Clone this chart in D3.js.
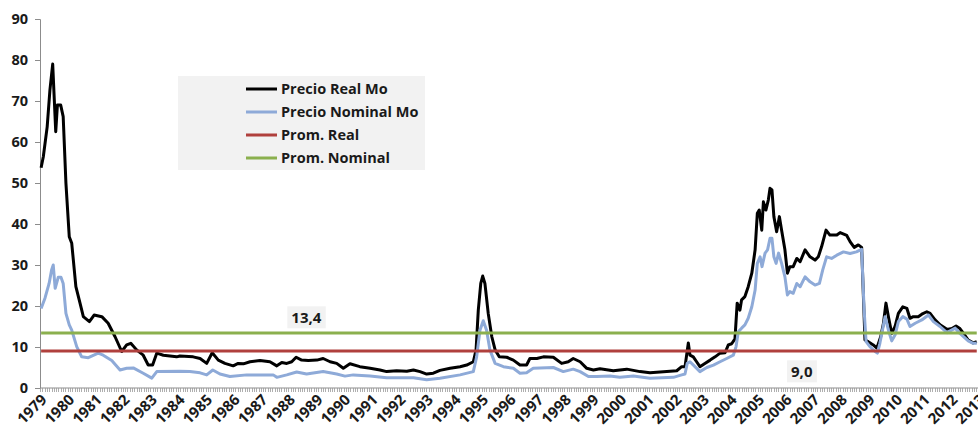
<!DOCTYPE html>
<html>
<head>
<meta charset="utf-8">
<script src="https://cdn.jsdelivr.net/npm/d3@7"></script>
<style>
  html, body { margin: 0; padding: 0; background: #fff; }
  svg { display: block; }
  text { font-family: "Open Sans", "Liberation Sans", sans-serif; font-weight: bold; fill: #1a1a1a; }
</style>
</head>
<body>
<svg id="chart" width="978" height="427"></svg>
<script>
// Monthly price series (decimal year, value)
const realDates = [1979.04,1979.12,1979.26,1979.36,1979.46,1979.57,1979.63,1979.75,1979.84,1979.94,
  1980.06,1980.15,1980.30,1980.45,1980.57,1980.79,1980.96,1981.24,1981.47,1981.72,1981.96,
  1982.14,1982.29,1982.50,1982.74,1982.92,1983.08,1983.23,1983.47,1983.95,1984.07,1984.55,1984.80,
  1985.04,1985.24,1985.46,1985.70,1986.00,1986.18,1986.37,1986.61,1986.97,1987.33,1987.58,1987.76,1987.94,
  1988.12,1988.28,1988.48,1988.72,1989.03,1989.26,1989.51,1989.75,1989.99,1990.23,1990.59,1990.96,
  1991.32,1991.56,1991.92,1992.29,1992.53,1992.77,1993.01,1993.25,1993.49,1993.86,1994.22,1994.46,1994.70,
  1994.80,1994.88,1994.97,1995.04,1995.12,1995.24,1995.37,1995.49,1995.64,1995.91,1996.15,1996.39,1996.63,
  1996.75,1997.00,1997.24,1997.60,1997.90,1998.14,1998.32,1998.57,1998.81,1999.05,1999.29,1999.77,
  2000.26,2000.74,2001.10,2001.71,2002.07,2002.25,2002.37,2002.49,2002.55,2002.67,2002.79,2002.91,
  2003.09,2003.28,2003.46,2003.64,2003.82,2003.94,2004.06,2004.18,2004.26,2004.36,2004.42,2004.54,2004.66,
  2004.79,2004.91,2004.99,2005.06,2005.15,2005.21,2005.30,2005.39,2005.45,2005.52,2005.59,2005.69,2005.79,
  2005.87,2005.99,2006.08,2006.17,2006.29,2006.42,2006.54,2006.72,2006.90,2007.08,2007.20,2007.32,2007.48,
  2007.62,2007.87,2007.99,2008.23,2008.35,2008.50,2008.65,2008.77,2008.89,2009.01,2009.19,2009.32,2009.46,
  2009.56,2009.65,2009.74,2009.86,2009.98,2010.10,2010.26,2010.41,2010.52,2010.64,2010.82,2010.95,2011.13,
  2011.25,2011.43,2011.61,2011.86,2012.04,2012.19,2012.33,2012.46,2012.63,2012.81,2012.94];
const realValues = [53.7,56.4,63.7,72.7,79.0,62.5,69.0,69.0,66.2,49.9,
  36.9,35.3,24.7,20.7,17.4,16.2,17.8,17.4,15.8,12.5,8.9,
  10.5,10.9,9.3,8.0,5.6,5.6,8.5,8.0,7.6,7.8,7.6,7.2,
  6.0,8.6,6.8,6.0,5.4,6.0,5.9,6.4,6.7,6.4,5.4,6.2,6.0,
  6.4,7.5,6.8,6.7,6.8,7.2,6.4,6.0,4.8,5.9,5.2,4.8,
  4.4,4.0,4.2,4.1,4.4,4.0,3.4,3.6,4.3,4.8,5.2,5.6,6.4,
  9.3,19.0,25.5,27.3,25.5,18.2,12.5,9.3,7.6,7.5,6.8,5.6,5.6,
  7.2,7.2,7.6,7.5,6.0,6.4,7.2,6.4,4.8,4.4,4.7,4.2,
  4.6,4.0,3.7,4.0,4.2,5.2,5.2,11.0,8.0,7.6,6.4,5.2,
  6.0,6.8,7.6,8.5,8.6,10.5,10.8,12.0,20.7,19.0,21.5,22.3,24.7,
  28.0,33.7,42.6,43.4,38.5,45.4,43.4,45.9,48.7,48.3,41.8,38.1,41.8,
  38.5,33.7,28.0,29.6,29.6,31.6,30.8,33.7,32.0,31.2,32.0,34.5,38.5,
  37.3,37.3,37.9,37.2,35.7,34.3,34.9,34.3,11.7,11.3,10.5,9.7,12.5,
  15.8,20.7,17.4,13.3,15.0,18.2,19.8,19.4,17.0,17.4,17.4,18.0,18.6,
  18.2,16.6,15.4,14.3,14.5,15.1,14.5,13.3,11.7,11.0,11.3];

const nominalDates = [1979.04,1979.18,1979.33,1979.42,1979.48,1979.55,1979.66,1979.76,1979.84,1979.94,
  1980.06,1980.15,1980.33,1980.51,1980.75,1981.11,1981.29,1981.60,1981.90,
  1982.14,1982.38,1982.74,1983.05,1983.23,1984.07,1984.43,1984.80,
  1985.04,1985.26,1985.52,1985.88,1986.49,1987.45,1987.58,1987.94,
  1988.30,1988.66,1989.26,1989.75,1990.05,1990.35,1990.96,
  1991.56,1992.53,1993.01,1993.49,1994.22,1994.70,
  1994.82,1994.94,1995.06,1995.18,1995.30,1995.49,1995.79,1996.15,1996.39,1996.63,
  1996.87,1997.60,1997.96,1998.32,1998.57,1998.87,1999.17,1999.65,
  2000.01,2000.50,2001.10,2001.95,2002.25,2002.37,2002.45,2002.55,2002.73,2002.91,
  2003.16,2003.40,2003.64,2003.88,2004.12,2004.22,2004.30,2004.42,2004.54,2004.66,
  2004.79,2004.91,2004.99,2005.09,2005.16,2005.27,2005.36,2005.45,2005.52,2005.59,2005.67,2005.76,
  2005.87,2005.99,2006.08,2006.17,2006.29,2006.42,2006.54,2006.72,2006.90,2007.08,2007.24,2007.36,2007.50,
  2007.68,2007.87,2008.11,2008.35,2008.58,2008.77,2008.86,2008.93,2009.07,2009.26,2009.34,2009.43,
  2009.55,2009.62,2009.74,2009.86,2009.98,2010.10,2010.26,2010.41,2010.52,2010.71,2010.95,2011.19,
  2011.37,2011.61,2011.86,2012.16,2012.33,2012.63,2012.81,2012.94];
const nominalValues = [19.4,21.9,25.5,28.8,30.0,24.3,27.0,27.0,25.5,18.2,
  15.4,14.1,10.1,7.6,7.4,8.5,8.0,6.7,4.4,
  4.8,4.9,3.6,2.4,4.0,4.1,4.0,3.7,
  3.2,4.4,3.4,2.8,3.2,3.2,2.6,3.2,
  3.9,3.4,4.0,3.4,2.9,3.2,2.9,
  2.5,2.5,2.0,2.4,3.2,4.0,
  7.6,14.1,16.4,14.1,9.3,6.0,5.2,4.8,3.6,3.7,
  4.8,5.0,4.0,4.6,4.0,2.8,2.8,2.9,
  2.6,2.9,2.4,2.6,3.2,3.4,6.0,6.4,5.2,4.0,
  5.0,5.6,6.4,7.2,8.0,10.1,13.7,14.6,15.4,17.0,
  19.8,23.9,30.4,32.0,29.6,32.9,33.7,36.5,36.5,32.0,30.4,32.9,
  30.4,27.1,22.7,23.5,23.1,25.5,24.7,27.1,25.9,25.1,25.5,28.8,32.0,
  31.6,32.4,33.2,32.8,33.2,33.8,19.0,11.3,10.1,8.9,8.5,10.9,
  15.0,17.4,14.1,11.5,12.9,16.2,17.4,16.8,15.0,15.8,16.6,17.8,
  16.2,15.0,13.5,14.6,13.3,11.5,10.9,10.9];

// Period averages
const promReal = 9.0;
const promNominal = 13.4;

const years = d3.range(1979, 2014);
const yTicks = [0, 10, 20, 30, 40, 50, 60, 70, 80, 90];
const seriesNames = ["Precio Real Mo", "Precio Nominal Mo", "Prom. Real", "Prom. Nominal"];
const seriesColors = ["#000000", "#8eaad8", "#b0403d", "#8bb04e"];

const svg = d3.select("#chart");
const x = d3.scaleLinear().domain([1979, 2013]).range([40, 978.4]);
const y = d3.scaleLinear().domain([0, 90]).range([388, 19]);
const fmtComma = v => d3.format(".1f")(v).replace(".", ",");

// y axis
const yAxis = d3.axisLeft(y).tickValues(yTicks).tickSize(5).tickPadding(7).tickFormat(d3.format("d"));
const gy = svg.append("g").attr("transform", "translate(40,0)").call(yAxis);
gy.select(".domain").attr("stroke", "#8c8c8c");
gy.selectAll(".tick line").attr("stroke", "#8c8c8c");
gy.selectAll(".tick text").style("font-size", "14.5px").attr("fill", "#1a1a1a");

// x axis: month ticks along the baseline
const months = d3.range(0, 34 * 12 + 1).map(i => 1979 + i / 12);
svg.append("line")
  .attr("x1", x(1979)).attr("x2", 978).attr("y1", y(0)).attr("y2", y(0))
  .attr("stroke", "#8c8c8c").attr("stroke-width", 1);
svg.append("g").selectAll("line").data(months).join("line")
  .attr("x1", d => Math.round(x(d)) + 0.5).attr("x2", d => Math.round(x(d)) + 0.5)
  .attr("y1", y(0)).attr("y2", y(0) + 4)
  .attr("stroke", "#9a9a9a").attr("stroke-width", 0.8);

// year labels, slanted at 45 degrees
svg.append("g").selectAll("text").data(years).join("text")
  .attr("transform", d => `translate(${x(d) + 4},${y(0) + 9}) rotate(-45)`)
  .attr("text-anchor", "end")
  .attr("dy", "0.35em")
  .style("font-size", "15px")
  .text(d => d);

// series lines
const line = d3.line().x(d => x(d[0])).y(d => y(d[1])).curve(d3.curveLinear);
const realData = d3.zip(realDates, realValues);
const nominalData = d3.zip(nominalDates, nominalValues);
const t0 = realDates[0], t1 = realDates[realDates.length - 1];

svg.append("path").datum(realData)
  .attr("d", line).attr("fill", "none").attr("stroke", seriesColors[0])
  .attr("stroke-width", 3).attr("stroke-linejoin", "round");
svg.append("path").datum(nominalData)
  .attr("d", line).attr("fill", "none").attr("stroke", seriesColors[1])
  .attr("stroke-width", 3).attr("stroke-linejoin", "round");
svg.append("path").datum([[t0, promReal], [t1, promReal]])
  .attr("d", line).attr("fill", "none").attr("stroke", seriesColors[2]).attr("stroke-width", 3);
svg.append("path").datum([[t0, promNominal], [t1, promNominal]])
  .attr("d", line).attr("fill", "none").attr("stroke", seriesColors[3]).attr("stroke-width", 3);

// value labels for the averages
function valueLabel(cx, cy, txt) {
  const g = svg.append("g");
  const t = g.append("text").attr("x", cx).attr("y", cy).attr("text-anchor", "middle")
    .attr("dy", "0.35em").style("font-size", "15px").text(txt);
  const b = t.node().getBBox();
  g.insert("rect", "text").attr("x", b.x - 4).attr("y", b.y - 1)
    .attr("width", b.width + 8).attr("height", b.height + 2).attr("fill", "#f2f2f2");
}
valueLabel(x(1988.65), y(promNominal) - 15, fmtComma(promNominal));
valueLabel(x(2006.6), y(promReal) + 21, fmtComma(promReal));

// legend
const legend = svg.append("g");
legend.append("rect").attr("x", 178).attr("y", 76).attr("width", 247).attr("height", 94).attr("fill", "#f2f2f2");
seriesNames.forEach((name, i) => {
  const ly = 89 + i * 23;
  legend.append("line").attr("x1", 246).attr("x2", 277).attr("y1", ly).attr("y2", ly)
    .attr("stroke", seriesColors[i]).attr("stroke-width", 3);
  legend.append("text").attr("x", 281).attr("y", ly).attr("dy", "0.35em")
    .style("font-size", "14.5px").text(name);
});
</script>
</body>
</html>
